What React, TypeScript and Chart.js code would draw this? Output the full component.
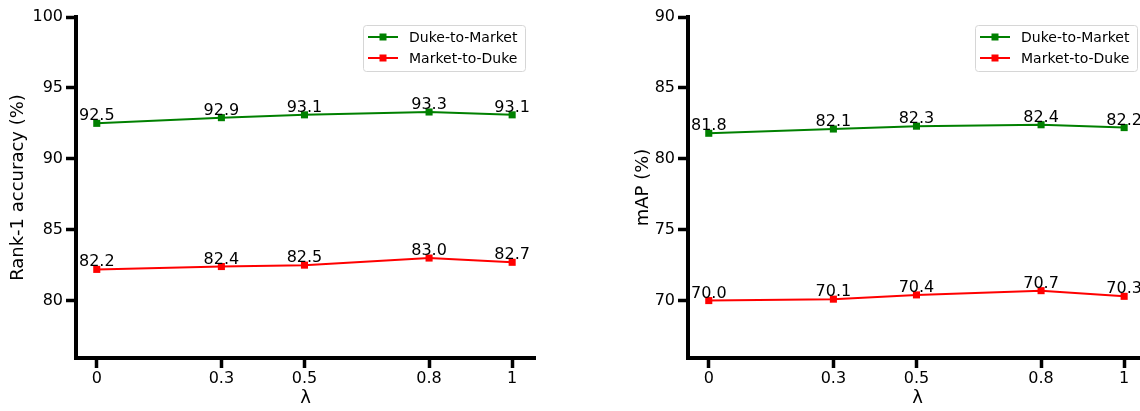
import React, { useEffect, useRef } from "react";
import { Chart, registerables } from "chart.js";
Chart.register(...registerables);

const lambdas = [0, 0.3, 0.5, 0.8, 1];
const xTickLabels = ["0", "0.3", "0.5", "0.8", "1"];
const seriesNames = ["Duke-to-Market", "Market-to-Duke"];
const seriesColors = ["#008000", "#ff0000"];
const rank1DukeToMarket = [92.5, 92.9, 93.1, 93.3, 93.1];
const rank1MarketToDuke = [82.2, 82.4, 82.5, 83.0, 82.7];
const mapDukeToMarket = [81.8, 82.1, 82.3, 82.4, 82.2];
const mapMarketToDuke = [70.0, 70.1, 70.4, 70.7, 70.3];
const rank1YTicks = [80, 85, 90, 95, 100];
const mapYTicks = [70, 75, 80, 85, 90];

const FONT = "'DejaVu Sans', sans-serif";

type PanelProps = {
  left: number;
  width: number;
  padLeft: number;
  yAxisWidth: number;
  padRight: number;
  yMin: number;
  yMax: number;
  yTicks: number[];
  yTitle: string;
  series: number[][];
};

function Panel(p: PanelProps) {
  const ref = useRef<HTMLCanvasElement | null>(null);
  useEffect(() => {
    if (!ref.current) return;
    const pointLabels = {
      id: "pointLabels",
      afterDatasetsDraw(chart: any) {
        const ctx = chart.ctx;
        ctx.save();
        ctx.font = `16px ${FONT}`;
        ctx.fillStyle = "#000";
        ctx.textAlign = "center";
        ctx.textBaseline = "alphabetic";
        chart.data.datasets.forEach((ds: any, i: number) => {
          const meta = chart.getDatasetMeta(i);
          meta.data.forEach((pt: any, j: number) => {
            ctx.fillText(Number(ds.data[j].y).toFixed(1), pt.x, pt.y - 3);
          });
        });
        ctx.restore();
      },
    };
    const legendBox = {
      id: "legendBox",
      afterDraw(chart: any) {
        const ctx = chart.ctx;
        const ca = chart.chartArea;
        const w = 162, h = 46;
        const x = ca.right - 10 - w;
        const y = ca.top + 8;
        ctx.save();
        ctx.beginPath();
        ctx.roundRect(x + 0.5, y + 0.5, w, h, 3);
        ctx.fillStyle = "rgba(255,255,255,0.8)";
        ctx.fill();
        ctx.strokeStyle = "#d6d6d6";
        ctx.lineWidth = 1;
        ctx.stroke();
        ctx.font = `14px ${FONT}`;
        ctx.textBaseline = "middle";
        ctx.textAlign = "left";
        chart.data.datasets.forEach((ds: any, i: number) => {
          const ry = y + 12 + i * 21;
          ctx.strokeStyle = ds.borderColor;
          ctx.lineWidth = 2;
          ctx.beginPath();
          ctx.moveTo(x + 5, ry);
          ctx.lineTo(x + 35, ry);
          ctx.stroke();
          ctx.fillStyle = ds.borderColor;
          ctx.fillRect(x + 20 - 3.5, ry - 3.5, 7, 7);
          ctx.fillStyle = "#000";
          ctx.fillText(ds.label, x + 46, ry + 1);
        });
        ctx.restore();
      },
    };
    const chart = new Chart(ref.current, {
      type: "line",
      data: {
        datasets: p.series.map((s, i) => ({
          label: seriesNames[i],
          data: lambdas.map((x, j) => ({ x, y: s[j] })),
          borderColor: seriesColors[i],
          backgroundColor: seriesColors[i],
          borderWidth: 2,
          pointStyle: "rect",
          pointRadius: 5,
          pointBorderWidth: 0,
          tension: 0,
        })),
      },
      options: {
        animation: false,
        responsive: false,
        devicePixelRatio: 1,
        layout: { padding: { left: p.padLeft, right: p.padRight, top: 17, bottom: 0 } },
        plugins: { legend: { display: false }, tooltip: { enabled: false } },
        scales: {
          x: {
            type: "linear",
            min: -0.05,
            max: 1.055,
            afterBuildTicks: (sc: any) => {
              sc.ticks = lambdas.map((v) => ({ value: v }));
            },
            afterFit: (sc: any) => {
              sc.height = 53;
            },
            ticks: {
              color: "#000",
              font: { family: FONT, size: 16 },
              padding: 1,
              maxRotation: 0,
              autoSkip: false,
              callback: (v: any) => xTickLabels[lambdas.indexOf(Number(v))] ?? "",
            },
            grid: { drawOnChartArea: false, drawTicks: true, tickLength: 10, tickWidth: 3.5, tickColor: "#000" },
            border: { display: true, width: 4, color: "#000" },
            title: { display: true, text: "λ", color: "#000", font: { family: FONT, size: 18 }, padding: { top: 0, bottom: 2 } },
          },
          y: {
            type: "linear",
            min: p.yMin,
            max: p.yMax,
            afterBuildTicks: (sc: any) => {
              sc.ticks = p.yTicks.map((v) => ({ value: v }));
            },
            afterFit: (sc: any) => {
              sc.width = p.yAxisWidth;
            },
            ticks: { color: "#000", font: { family: FONT, size: 16 }, padding: 3 },
            grid: { drawOnChartArea: false, drawTicks: true, tickLength: 10, tickWidth: 3.5, tickColor: "#000" },
            border: { display: true, width: 4, color: "#000" },
            title: { display: true, text: p.yTitle, color: "#000", font: { family: FONT, size: 18 }, padding: { top: 8, bottom: 0 } },
          },
        },
      },
      plugins: [pointLabels, legendBox],
    } as any);
    return () => chart.destroy();
  }, []);
  return (
    <canvas
      ref={ref}
      width={p.width}
      height={411}
      style={{ position: "absolute", left: p.left, top: 0, width: p.width, height: 411 }}
    />
  );
}

export default function App() {
  return (
    <div
      style={{
        position: "fixed",
        left: 0,
        top: 0,
        width: 1140,
        height: 411,
        overflow: "hidden",
        background: "#fff",
      }}
    >
      <Panel
        left={0}
        width={570}
        padLeft={0}
        yAxisWidth={76}
        padRight={35}
        yMin={75.95}
        yMax={100}
        yTicks={rank1YTicks}
        yTitle="Rank-1 accuracy (%)"
        series={[rank1DukeToMarket, rank1MarketToDuke]}
      />
      <Panel
        left={570}
        width={600}
        padLeft={55}
        yAxisWidth={63}
        padRight={23}
        yMin={65.95}
        yMax={90}
        yTicks={mapYTicks}
        yTitle="mAP (%)"
        series={[mapDukeToMarket, mapMarketToDuke]}
      />
    </div>
  );
}
